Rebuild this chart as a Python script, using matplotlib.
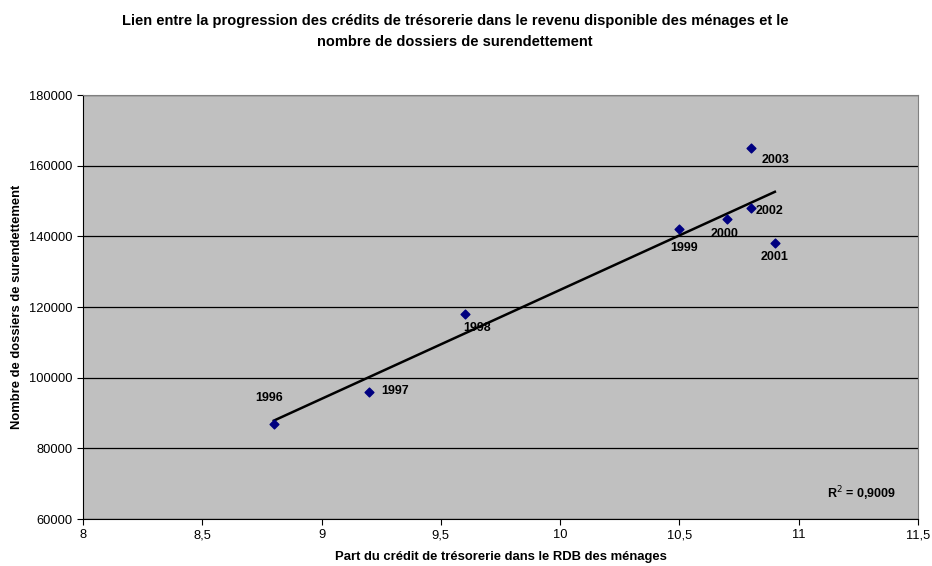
import numpy as np
import matplotlib
matplotlib.use('Agg')
import matplotlib.pyplot as plt
from matplotlib.ticker import FuncFormatter

plt.rcParams['font.family'] = ['Liberation Sans', 'DejaVu Sans']

# données
annees = ['1996', '1997', '1998', '1999', '2000', '2001', '2002', '2003']
part_credit = [8.8, 9.2, 9.6, 10.5, 10.7, 10.9, 10.8, 10.8]
dossiers = [87000, 96000, 118000, 142000, 145000, 138000, 148000, 165000]

# décalage des étiquettes (pixels)
decalages = {
    '1996': (-5, 26), '1997': (26, 1), '1998': (12, -14), '1999': (5, -19),
    '2000': (-3, -15), '2001': (0, -14), '2002': (18, -3), '2003': (25, -12),
}

fig = plt.figure(figsize=(9.32, 5.66), dpi=100)
ax = fig.add_axes([0.089, 0.083, 0.896, 0.749])
ax.set_facecolor('#C0C0C0')

ax.scatter(part_credit, dossiers, marker='D', s=20, color='#000080', zorder=3)

# courbe de tendance linéaire
x = np.array(part_credit)
y = np.array(dossiers)
a, b = np.polyfit(x, y, 1)
xs = np.array([x.min(), x.max()])
ax.plot(xs, a * xs + b, color='black', lw=1.8, zorder=2)

for an, px, py in zip(annees, part_credit, dossiers):
    dx, dy = decalages[an]
    ax.annotate(an, (px, py), xytext=(dx, dy), textcoords='offset pixels',
                ha='center', va='center', fontsize=9, fontweight='bold')

ax.text(0.932, 0.059, 'R$^2$ = 0,9009', transform=ax.transAxes, ha='center',
        va='center', fontsize=9, fontweight='bold')

ax.set_xlim(8, 11.5)
ax.set_ylim(60000, 180000)
ax.set_xticks(np.arange(8, 11.51, 0.5))
ax.set_yticks(np.arange(60000, 180001, 20000))
ax.xaxis.set_major_formatter(FuncFormatter(lambda v, p: f'{v:g}'.replace('.', ',')))
ax.yaxis.set_major_formatter(FuncFormatter(lambda v, p: f'{v:.0f}'))
ax.tick_params(labelsize=9.3, length=4, direction='out', color='black')
ax.yaxis.grid(True, color='black', lw=0.9)
ax.set_axisbelow(True)
for s in ax.spines.values():
    s.set_color('#808080')
ax.spines['left'].set_color('black')
ax.spines['bottom'].set_color('black')

ax.set_xlabel('Part du crédit de trésorerie dans le RDB des ménages',
              fontsize=9.4, fontweight='bold', labelpad=7)
ax.set_ylabel('Nombre de dossiers de surendettement',
              fontsize=9.4, fontweight='bold', labelpad=4)

fig.text(0.488, 0.944,
         'Lien entre la progression des crédits de trésorerie dans le revenu disponible des ménages et le\nnombre de dossiers de surendettement',
         ha='center', va='center', fontsize=10.5, fontweight='bold', linespacing=1.6)

plt.savefig('out.png', dpi=100)
